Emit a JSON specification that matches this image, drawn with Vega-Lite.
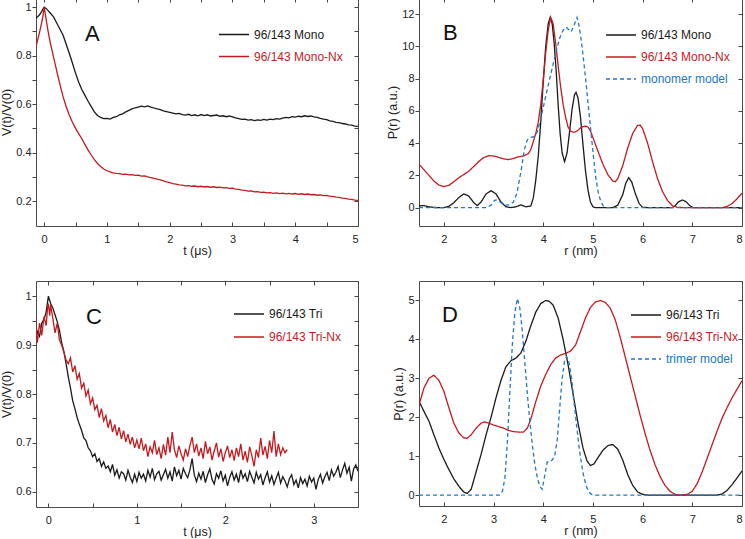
{
  "$schema": "https://vega.github.io/schema/vega-lite/v6.json",
  "background": "white",
  "padding": {"left": 0, "top": -3, "right": 0, "bottom": 0},
  "config": {
    "font": "Liberation Sans",
    "view": {"stroke": "#4a4a4a", "strokeWidth": 1},
    "axis": {"grid": false, "domain": false, "labelFont": "Liberation Sans", "labelFontSize": 11, "labelColor": "#222", "titleFont": "Liberation Sans", "titleFontSize": 12.5, "titleFontWeight": "normal", "titleColor": "#222", "tickColor": "#444", "tickWidth": 1, "format": "~g"},
    "axisLeft": {"tickSize": 4, "labelPadding": 1, "titlePadding": 2},
    "axisBottom": {"tickSize": -4, "labelPadding": 11, "titlePadding": 0},
    "legend": {"title": null, "orient": "none", "symbolType": "stroke", "symbolSize": 900, "symbolStrokeWidth": 1.5, "labelFont": "Liberation Sans", "labelFontSize": 12, "labelOffset": 4, "padding": 0,
      "labelColor": {"expr": "(datum.label === '96/143 Mono-Nx' || datum.label === '96/143 Tri-Nx') ? '#c41a1f' : ((datum.label === 'monomer model' || datum.label === 'trimer model') ? '#2277c4' : '#1a1a1a')"}},
    "title": {"font": "Liberation Sans", "fontSize": 22, "fontWeight": "normal", "color": "#111", "anchor": "start", "frame": "group"}
  },
  "columns": 2,
  "spacing": {"row": 55, "column": 61},
  "bounds": "flush",
  "resolve": {"scale": {"x": "independent", "y": "independent", "color": "independent", "strokeDash": "independent", "strokeWidth": "independent"}, "legend": {"color": "independent", "strokeDash": "independent"}},
  "datasets": {
    "A": [
      {"t": -0.13, "v": 0.956, "s": "96/143 Mono"}, {"t": -0.1, "v": 0.962, "s": "96/143 Mono"}, {"t": -0.07, "v": 0.97, "s": "96/143 Mono"}, {"t": -0.04, "v": 0.982, "s": "96/143 Mono"}, {"t": -0.02, "v": 0.992, "s": "96/143 Mono"}, {"t": 0, "v": 1.0, "s": "96/143 Mono"},
      {"t": 0.03, "v": 0.995, "s": "96/143 Mono"}, {"t": 0.06, "v": 0.987, "s": "96/143 Mono"}, {"t": 0.1, "v": 0.975, "s": "96/143 Mono"}, {"t": 0.15, "v": 0.96, "s": "96/143 Mono"}, {"t": 0.2, "v": 0.935, "s": "96/143 Mono"}, {"t": 0.25, "v": 0.91, "s": "96/143 Mono"}, {"t": 0.3, "v": 0.885, "s": "96/143 Mono"}, {"t": 0.35, "v": 0.848, "s": "96/143 Mono"}, {"t": 0.4, "v": 0.81, "s": "96/143 Mono"}, {"t": 0.45, "v": 0.77, "s": "96/143 Mono"}, {"t": 0.5, "v": 0.728, "s": "96/143 Mono"}, {"t": 0.55, "v": 0.69, "s": "96/143 Mono"}, {"t": 0.6, "v": 0.66, "s": "96/143 Mono"}, {"t": 0.65, "v": 0.636, "s": "96/143 Mono"}, {"t": 0.7, "v": 0.612, "s": "96/143 Mono"}, {"t": 0.75, "v": 0.59, "s": "96/143 Mono"}, {"t": 0.8, "v": 0.568, "s": "96/143 Mono"}, {"t": 0.85, "v": 0.553, "s": "96/143 Mono"}, {"t": 0.9, "v": 0.545, "s": "96/143 Mono"}, {"t": 0.95, "v": 0.54, "s": "96/143 Mono"},
      {"t": 1.0, "v": 0.541, "s": "96/143 Mono"}, {"t": 1.05, "v": 0.538, "s": "96/143 Mono"}, {"t": 1.1, "v": 0.545, "s": "96/143 Mono"}, {"t": 1.15, "v": 0.548, "s": "96/143 Mono"}, {"t": 1.2, "v": 0.556, "s": "96/143 Mono"}, {"t": 1.25, "v": 0.56, "s": "96/143 Mono"}, {"t": 1.3, "v": 0.568, "s": "96/143 Mono"}, {"t": 1.35, "v": 0.574, "s": "96/143 Mono"}, {"t": 1.4, "v": 0.58, "s": "96/143 Mono"}, {"t": 1.45, "v": 0.585, "s": "96/143 Mono"}, {"t": 1.5, "v": 0.588, "s": "96/143 Mono"}, {"t": 1.55, "v": 0.592, "s": "96/143 Mono"}, {"t": 1.6, "v": 0.589, "s": "96/143 Mono"}, {"t": 1.65, "v": 0.593, "s": "96/143 Mono"}, {"t": 1.7, "v": 0.588, "s": "96/143 Mono"}, {"t": 1.75, "v": 0.584, "s": "96/143 Mono"}, {"t": 1.8, "v": 0.58, "s": "96/143 Mono"}, {"t": 1.85, "v": 0.577, "s": "96/143 Mono"}, {"t": 1.9, "v": 0.572, "s": "96/143 Mono"}, {"t": 1.95, "v": 0.569, "s": "96/143 Mono"},
      {"t": 2.0, "v": 0.566, "s": "96/143 Mono"}, {"t": 2.05, "v": 0.563, "s": "96/143 Mono"}, {"t": 2.1, "v": 0.56, "s": "96/143 Mono"}, {"t": 2.15, "v": 0.562, "s": "96/143 Mono"}, {"t": 2.2, "v": 0.557, "s": "96/143 Mono"}, {"t": 2.25, "v": 0.555, "s": "96/143 Mono"}, {"t": 2.3, "v": 0.558, "s": "96/143 Mono"}, {"t": 2.35, "v": 0.553, "s": "96/143 Mono"}, {"t": 2.4, "v": 0.556, "s": "96/143 Mono"}, {"t": 2.45, "v": 0.552, "s": "96/143 Mono"}, {"t": 2.5, "v": 0.557, "s": "96/143 Mono"}, {"t": 2.55, "v": 0.553, "s": "96/143 Mono"}, {"t": 2.6, "v": 0.556, "s": "96/143 Mono"}, {"t": 2.65, "v": 0.551, "s": "96/143 Mono"}, {"t": 2.7, "v": 0.553, "s": "96/143 Mono"}, {"t": 2.75, "v": 0.555, "s": "96/143 Mono"}, {"t": 2.8, "v": 0.55, "s": "96/143 Mono"}, {"t": 2.85, "v": 0.552, "s": "96/143 Mono"}, {"t": 2.9, "v": 0.548, "s": "96/143 Mono"}, {"t": 2.95, "v": 0.551, "s": "96/143 Mono"},
      {"t": 3.0, "v": 0.547, "s": "96/143 Mono"}, {"t": 3.05, "v": 0.543, "s": "96/143 Mono"}, {"t": 3.1, "v": 0.54, "s": "96/143 Mono"}, {"t": 3.15, "v": 0.537, "s": "96/143 Mono"}, {"t": 3.2, "v": 0.538, "s": "96/143 Mono"}, {"t": 3.25, "v": 0.534, "s": "96/143 Mono"}, {"t": 3.3, "v": 0.536, "s": "96/143 Mono"}, {"t": 3.35, "v": 0.532, "s": "96/143 Mono"}, {"t": 3.4, "v": 0.535, "s": "96/143 Mono"}, {"t": 3.45, "v": 0.533, "s": "96/143 Mono"}, {"t": 3.5, "v": 0.537, "s": "96/143 Mono"}, {"t": 3.55, "v": 0.534, "s": "96/143 Mono"}, {"t": 3.6, "v": 0.538, "s": "96/143 Mono"}, {"t": 3.65, "v": 0.536, "s": "96/143 Mono"}, {"t": 3.7, "v": 0.54, "s": "96/143 Mono"}, {"t": 3.75, "v": 0.538, "s": "96/143 Mono"}, {"t": 3.8, "v": 0.542, "s": "96/143 Mono"}, {"t": 3.85, "v": 0.545, "s": "96/143 Mono"}, {"t": 3.9, "v": 0.543, "s": "96/143 Mono"}, {"t": 3.95, "v": 0.548, "s": "96/143 Mono"},
      {"t": 4.0, "v": 0.546, "s": "96/143 Mono"}, {"t": 4.05, "v": 0.55, "s": "96/143 Mono"}, {"t": 4.1, "v": 0.548, "s": "96/143 Mono"}, {"t": 4.15, "v": 0.552, "s": "96/143 Mono"}, {"t": 4.2, "v": 0.549, "s": "96/143 Mono"}, {"t": 4.25, "v": 0.551, "s": "96/143 Mono"}, {"t": 4.3, "v": 0.547, "s": "96/143 Mono"}, {"t": 4.35, "v": 0.545, "s": "96/143 Mono"}, {"t": 4.4, "v": 0.541, "s": "96/143 Mono"}, {"t": 4.45, "v": 0.538, "s": "96/143 Mono"}, {"t": 4.5, "v": 0.536, "s": "96/143 Mono"}, {"t": 4.55, "v": 0.531, "s": "96/143 Mono"}, {"t": 4.6, "v": 0.529, "s": "96/143 Mono"}, {"t": 4.65, "v": 0.525, "s": "96/143 Mono"}, {"t": 4.7, "v": 0.524, "s": "96/143 Mono"}, {"t": 4.75, "v": 0.52, "s": "96/143 Mono"}, {"t": 4.8, "v": 0.518, "s": "96/143 Mono"}, {"t": 4.85, "v": 0.514, "s": "96/143 Mono"}, {"t": 4.9, "v": 0.513, "s": "96/143 Mono"}, {"t": 4.95, "v": 0.509, "s": "96/143 Mono"}, {"t": 5.0, "v": 0.508, "s": "96/143 Mono"},
      {"t": -0.13, "v": 0.838, "s": "96/143 Mono-Nx"}, {"t": -0.1, "v": 0.868, "s": "96/143 Mono-Nx"}, {"t": -0.07, "v": 0.9, "s": "96/143 Mono-Nx"}, {"t": -0.04, "v": 0.935, "s": "96/143 Mono-Nx"}, {"t": -0.02, "v": 0.962, "s": "96/143 Mono-Nx"}, {"t": 0, "v": 1.0, "s": "96/143 Mono-Nx"},
      {"t": 0.02, "v": 0.968, "s": "96/143 Mono-Nx"}, {"t": 0.04, "v": 0.935, "s": "96/143 Mono-Nx"}, {"t": 0.07, "v": 0.89, "s": "96/143 Mono-Nx"}, {"t": 0.1, "v": 0.85, "s": "96/143 Mono-Nx"}, {"t": 0.14, "v": 0.805, "s": "96/143 Mono-Nx"}, {"t": 0.18, "v": 0.76, "s": "96/143 Mono-Nx"}, {"t": 0.22, "v": 0.715, "s": "96/143 Mono-Nx"}, {"t": 0.26, "v": 0.672, "s": "96/143 Mono-Nx"}, {"t": 0.3, "v": 0.632, "s": "96/143 Mono-Nx"}, {"t": 0.35, "v": 0.59, "s": "96/143 Mono-Nx"}, {"t": 0.4, "v": 0.555, "s": "96/143 Mono-Nx"}, {"t": 0.45, "v": 0.525, "s": "96/143 Mono-Nx"}, {"t": 0.5, "v": 0.5, "s": "96/143 Mono-Nx"}, {"t": 0.55, "v": 0.478, "s": "96/143 Mono-Nx"}, {"t": 0.6, "v": 0.457, "s": "96/143 Mono-Nx"}, {"t": 0.65, "v": 0.433, "s": "96/143 Mono-Nx"}, {"t": 0.7, "v": 0.41, "s": "96/143 Mono-Nx"}, {"t": 0.75, "v": 0.39, "s": "96/143 Mono-Nx"}, {"t": 0.8, "v": 0.371, "s": "96/143 Mono-Nx"}, {"t": 0.85, "v": 0.355, "s": "96/143 Mono-Nx"}, {"t": 0.9, "v": 0.343, "s": "96/143 Mono-Nx"}, {"t": 0.95, "v": 0.332, "s": "96/143 Mono-Nx"},
      {"t": 1.0, "v": 0.325, "s": "96/143 Mono-Nx"}, {"t": 1.05, "v": 0.32, "s": "96/143 Mono-Nx"}, {"t": 1.1, "v": 0.316, "s": "96/143 Mono-Nx"}, {"t": 1.15, "v": 0.314, "s": "96/143 Mono-Nx"}, {"t": 1.2, "v": 0.313, "s": "96/143 Mono-Nx"}, {"t": 1.25, "v": 0.31, "s": "96/143 Mono-Nx"}, {"t": 1.3, "v": 0.311, "s": "96/143 Mono-Nx"}, {"t": 1.35, "v": 0.308, "s": "96/143 Mono-Nx"}, {"t": 1.4, "v": 0.309, "s": "96/143 Mono-Nx"}, {"t": 1.45, "v": 0.306, "s": "96/143 Mono-Nx"}, {"t": 1.5, "v": 0.307, "s": "96/143 Mono-Nx"}, {"t": 1.55, "v": 0.303, "s": "96/143 Mono-Nx"}, {"t": 1.6, "v": 0.304, "s": "96/143 Mono-Nx"}, {"t": 1.65, "v": 0.3, "s": "96/143 Mono-Nx"}, {"t": 1.7, "v": 0.297, "s": "96/143 Mono-Nx"}, {"t": 1.75, "v": 0.294, "s": "96/143 Mono-Nx"}, {"t": 1.8, "v": 0.29, "s": "96/143 Mono-Nx"}, {"t": 1.85, "v": 0.287, "s": "96/143 Mono-Nx"}, {"t": 1.9, "v": 0.283, "s": "96/143 Mono-Nx"}, {"t": 1.95, "v": 0.279, "s": "96/143 Mono-Nx"},
      {"t": 2.0, "v": 0.276, "s": "96/143 Mono-Nx"}, {"t": 2.05, "v": 0.272, "s": "96/143 Mono-Nx"}, {"t": 2.1, "v": 0.27, "s": "96/143 Mono-Nx"}, {"t": 2.15, "v": 0.267, "s": "96/143 Mono-Nx"}, {"t": 2.2, "v": 0.266, "s": "96/143 Mono-Nx"}, {"t": 2.25, "v": 0.263, "s": "96/143 Mono-Nx"}, {"t": 2.3, "v": 0.264, "s": "96/143 Mono-Nx"}, {"t": 2.35, "v": 0.261, "s": "96/143 Mono-Nx"}, {"t": 2.4, "v": 0.262, "s": "96/143 Mono-Nx"}, {"t": 2.45, "v": 0.259, "s": "96/143 Mono-Nx"}, {"t": 2.5, "v": 0.261, "s": "96/143 Mono-Nx"}, {"t": 2.55, "v": 0.258, "s": "96/143 Mono-Nx"}, {"t": 2.6, "v": 0.26, "s": "96/143 Mono-Nx"}, {"t": 2.65, "v": 0.257, "s": "96/143 Mono-Nx"}, {"t": 2.7, "v": 0.259, "s": "96/143 Mono-Nx"}, {"t": 2.75, "v": 0.256, "s": "96/143 Mono-Nx"}, {"t": 2.8, "v": 0.257, "s": "96/143 Mono-Nx"}, {"t": 2.85, "v": 0.254, "s": "96/143 Mono-Nx"}, {"t": 2.9, "v": 0.255, "s": "96/143 Mono-Nx"}, {"t": 2.95, "v": 0.252, "s": "96/143 Mono-Nx"},
      {"t": 3.0, "v": 0.253, "s": "96/143 Mono-Nx"}, {"t": 3.05, "v": 0.249, "s": "96/143 Mono-Nx"}, {"t": 3.1, "v": 0.248, "s": "96/143 Mono-Nx"}, {"t": 3.15, "v": 0.245, "s": "96/143 Mono-Nx"}, {"t": 3.2, "v": 0.244, "s": "96/143 Mono-Nx"}, {"t": 3.25, "v": 0.241, "s": "96/143 Mono-Nx"}, {"t": 3.3, "v": 0.242, "s": "96/143 Mono-Nx"}, {"t": 3.35, "v": 0.238, "s": "96/143 Mono-Nx"}, {"t": 3.4, "v": 0.239, "s": "96/143 Mono-Nx"}, {"t": 3.45, "v": 0.236, "s": "96/143 Mono-Nx"}, {"t": 3.5, "v": 0.237, "s": "96/143 Mono-Nx"}, {"t": 3.55, "v": 0.234, "s": "96/143 Mono-Nx"}, {"t": 3.6, "v": 0.235, "s": "96/143 Mono-Nx"}, {"t": 3.65, "v": 0.232, "s": "96/143 Mono-Nx"}, {"t": 3.7, "v": 0.234, "s": "96/143 Mono-Nx"}, {"t": 3.75, "v": 0.231, "s": "96/143 Mono-Nx"}, {"t": 3.8, "v": 0.233, "s": "96/143 Mono-Nx"}, {"t": 3.85, "v": 0.23, "s": "96/143 Mono-Nx"}, {"t": 3.9, "v": 0.232, "s": "96/143 Mono-Nx"}, {"t": 3.95, "v": 0.229, "s": "96/143 Mono-Nx"},
      {"t": 4.0, "v": 0.231, "s": "96/143 Mono-Nx"}, {"t": 4.05, "v": 0.228, "s": "96/143 Mono-Nx"}, {"t": 4.1, "v": 0.23, "s": "96/143 Mono-Nx"}, {"t": 4.15, "v": 0.227, "s": "96/143 Mono-Nx"}, {"t": 4.2, "v": 0.229, "s": "96/143 Mono-Nx"}, {"t": 4.25, "v": 0.226, "s": "96/143 Mono-Nx"}, {"t": 4.3, "v": 0.227, "s": "96/143 Mono-Nx"}, {"t": 4.35, "v": 0.224, "s": "96/143 Mono-Nx"}, {"t": 4.4, "v": 0.225, "s": "96/143 Mono-Nx"}, {"t": 4.45, "v": 0.222, "s": "96/143 Mono-Nx"}, {"t": 4.5, "v": 0.223, "s": "96/143 Mono-Nx"}, {"t": 4.55, "v": 0.22, "s": "96/143 Mono-Nx"}, {"t": 4.6, "v": 0.219, "s": "96/143 Mono-Nx"}, {"t": 4.65, "v": 0.216, "s": "96/143 Mono-Nx"}, {"t": 4.7, "v": 0.215, "s": "96/143 Mono-Nx"}, {"t": 4.75, "v": 0.212, "s": "96/143 Mono-Nx"}, {"t": 4.8, "v": 0.211, "s": "96/143 Mono-Nx"}, {"t": 4.85, "v": 0.208, "s": "96/143 Mono-Nx"}, {"t": 4.9, "v": 0.207, "s": "96/143 Mono-Nx"}, {"t": 4.95, "v": 0.204, "s": "96/143 Mono-Nx"}, {"t": 5.0, "v": 0.203, "s": "96/143 Mono-Nx"}
    ],
    "B": [
      {"r": 1.5, "p": 0.1, "s": "96/143 Mono"}, {"r": 1.55, "p": 0.12, "s": "96/143 Mono"}, {"r": 1.6, "p": 0.12, "s": "96/143 Mono"}, {"r": 1.65, "p": 0.09, "s": "96/143 Mono"}, {"r": 1.7, "p": 0.05, "s": "96/143 Mono"}, {"r": 1.8, "p": 0.01, "s": "96/143 Mono"}, {"r": 1.9, "p": 0, "s": "96/143 Mono"}, {"r": 2.0, "p": 0, "s": "96/143 Mono"}, {"r": 2.1, "p": 0.08, "s": "96/143 Mono"}, {"r": 2.2, "p": 0.3, "s": "96/143 Mono"}, {"r": 2.3, "p": 0.62, "s": "96/143 Mono"}, {"r": 2.4, "p": 0.85, "s": "96/143 Mono"}, {"r": 2.5, "p": 0.72, "s": "96/143 Mono"}, {"r": 2.6, "p": 0.32, "s": "96/143 Mono"}, {"r": 2.67, "p": 0.12, "s": "96/143 Mono"}, {"r": 2.75, "p": 0.35, "s": "96/143 Mono"}, {"r": 2.85, "p": 0.85, "s": "96/143 Mono"}, {"r": 2.95, "p": 1.05, "s": "96/143 Mono"}, {"r": 3.05, "p": 0.85, "s": "96/143 Mono"}, {"r": 3.15, "p": 0.35, "s": "96/143 Mono"}, {"r": 3.25, "p": 0.05, "s": "96/143 Mono"}, {"r": 3.35, "p": 0, "s": "96/143 Mono"}, {"r": 3.45, "p": 0.05, "s": "96/143 Mono"}, {"r": 3.55, "p": 0.17, "s": "96/143 Mono"}, {"r": 3.65, "p": 0.05, "s": "96/143 Mono"}, {"r": 3.75, "p": 0.1, "s": "96/143 Mono"}, {"r": 3.8, "p": 0.6, "s": "96/143 Mono"}, {"r": 3.85, "p": 1.7, "s": "96/143 Mono"}, {"r": 3.9, "p": 3.2, "s": "96/143 Mono"}, {"r": 3.95, "p": 5.3, "s": "96/143 Mono"}, {"r": 4.0, "p": 7.8, "s": "96/143 Mono"}, {"r": 4.05, "p": 10.0, "s": "96/143 Mono"}, {"r": 4.1, "p": 11.4, "s": "96/143 Mono"}, {"r": 4.14, "p": 11.8, "s": "96/143 Mono"}, {"r": 4.18, "p": 11.4, "s": "96/143 Mono"}, {"r": 4.22, "p": 10.2, "s": "96/143 Mono"}, {"r": 4.26, "p": 8.5, "s": "96/143 Mono"}, {"r": 4.3, "p": 6.4, "s": "96/143 Mono"}, {"r": 4.34, "p": 4.6, "s": "96/143 Mono"}, {"r": 4.38, "p": 3.4, "s": "96/143 Mono"}, {"r": 4.43, "p": 2.85, "s": "96/143 Mono"}, {"r": 4.48, "p": 3.4, "s": "96/143 Mono"}, {"r": 4.53, "p": 4.7, "s": "96/143 Mono"}, {"r": 4.58, "p": 6.1, "s": "96/143 Mono"}, {"r": 4.63, "p": 7.0, "s": "96/143 Mono"}, {"r": 4.66, "p": 7.15, "s": "96/143 Mono"}, {"r": 4.7, "p": 6.8, "s": "96/143 Mono"}, {"r": 4.75, "p": 5.6, "s": "96/143 Mono"}, {"r": 4.8, "p": 3.9, "s": "96/143 Mono"}, {"r": 4.85, "p": 2.3, "s": "96/143 Mono"}, {"r": 4.9, "p": 1.1, "s": "96/143 Mono"}, {"r": 4.95, "p": 0.35, "s": "96/143 Mono"}, {"r": 5.0, "p": 0.05, "s": "96/143 Mono"}, {"r": 5.05, "p": 0, "s": "96/143 Mono"}, {"r": 5.4, "p": 0, "s": "96/143 Mono"}, {"r": 5.5, "p": 0.15, "s": "96/143 Mono"}, {"r": 5.6, "p": 0.8, "s": "96/143 Mono"}, {"r": 5.66, "p": 1.5, "s": "96/143 Mono"}, {"r": 5.72, "p": 1.86, "s": "96/143 Mono"}, {"r": 5.78, "p": 1.6, "s": "96/143 Mono"}, {"r": 5.85, "p": 0.9, "s": "96/143 Mono"}, {"r": 5.93, "p": 0.25, "s": "96/143 Mono"}, {"r": 6.0, "p": 0.02, "s": "96/143 Mono"}, {"r": 6.1, "p": 0, "s": "96/143 Mono"}, {"r": 6.6, "p": 0, "s": "96/143 Mono"}, {"r": 6.65, "p": 0.1, "s": "96/143 Mono"}, {"r": 6.72, "p": 0.35, "s": "96/143 Mono"}, {"r": 6.8, "p": 0.48, "s": "96/143 Mono"}, {"r": 6.88, "p": 0.35, "s": "96/143 Mono"}, {"r": 6.95, "p": 0.12, "s": "96/143 Mono"}, {"r": 7.02, "p": 0, "s": "96/143 Mono"}, {"r": 8.0, "p": 0, "s": "96/143 Mono"},
      {"r": 1.5, "p": 2.7, "s": "96/143 Mono-Nx"}, {"r": 1.6, "p": 2.35, "s": "96/143 Mono-Nx"}, {"r": 1.7, "p": 2.0, "s": "96/143 Mono-Nx"}, {"r": 1.8, "p": 1.65, "s": "96/143 Mono-Nx"}, {"r": 1.9, "p": 1.4, "s": "96/143 Mono-Nx"}, {"r": 2.0, "p": 1.3, "s": "96/143 Mono-Nx"}, {"r": 2.1, "p": 1.38, "s": "96/143 Mono-Nx"}, {"r": 2.2, "p": 1.6, "s": "96/143 Mono-Nx"}, {"r": 2.3, "p": 1.85, "s": "96/143 Mono-Nx"}, {"r": 2.4, "p": 2.05, "s": "96/143 Mono-Nx"}, {"r": 2.5, "p": 2.25, "s": "96/143 Mono-Nx"}, {"r": 2.6, "p": 2.55, "s": "96/143 Mono-Nx"}, {"r": 2.7, "p": 2.85, "s": "96/143 Mono-Nx"}, {"r": 2.8, "p": 3.1, "s": "96/143 Mono-Nx"}, {"r": 2.9, "p": 3.22, "s": "96/143 Mono-Nx"}, {"r": 3.0, "p": 3.2, "s": "96/143 Mono-Nx"}, {"r": 3.1, "p": 3.12, "s": "96/143 Mono-Nx"}, {"r": 3.2, "p": 3.02, "s": "96/143 Mono-Nx"}, {"r": 3.3, "p": 2.98, "s": "96/143 Mono-Nx"}, {"r": 3.4, "p": 3.05, "s": "96/143 Mono-Nx"}, {"r": 3.5, "p": 3.15, "s": "96/143 Mono-Nx"}, {"r": 3.6, "p": 3.2, "s": "96/143 Mono-Nx"}, {"r": 3.7, "p": 3.35, "s": "96/143 Mono-Nx"}, {"r": 3.75, "p": 3.6, "s": "96/143 Mono-Nx"}, {"r": 3.8, "p": 4.1, "s": "96/143 Mono-Nx"}, {"r": 3.85, "p": 4.6, "s": "96/143 Mono-Nx"}, {"r": 3.9, "p": 5.3, "s": "96/143 Mono-Nx"}, {"r": 3.95, "p": 6.4, "s": "96/143 Mono-Nx"}, {"r": 4.0, "p": 7.9, "s": "96/143 Mono-Nx"}, {"r": 4.05, "p": 9.6, "s": "96/143 Mono-Nx"}, {"r": 4.1, "p": 11.0, "s": "96/143 Mono-Nx"}, {"r": 4.15, "p": 11.8, "s": "96/143 Mono-Nx"}, {"r": 4.2, "p": 11.4, "s": "96/143 Mono-Nx"}, {"r": 4.25, "p": 10.2, "s": "96/143 Mono-Nx"}, {"r": 4.3, "p": 8.8, "s": "96/143 Mono-Nx"}, {"r": 4.35, "p": 7.5, "s": "96/143 Mono-Nx"}, {"r": 4.4, "p": 6.4, "s": "96/143 Mono-Nx"}, {"r": 4.45, "p": 5.6, "s": "96/143 Mono-Nx"}, {"r": 4.5, "p": 5.0, "s": "96/143 Mono-Nx"}, {"r": 4.55, "p": 4.75, "s": "96/143 Mono-Nx"}, {"r": 4.6, "p": 4.68, "s": "96/143 Mono-Nx"}, {"r": 4.65, "p": 4.7, "s": "96/143 Mono-Nx"}, {"r": 4.7, "p": 4.8, "s": "96/143 Mono-Nx"}, {"r": 4.75, "p": 4.95, "s": "96/143 Mono-Nx"}, {"r": 4.8, "p": 5.02, "s": "96/143 Mono-Nx"}, {"r": 4.85, "p": 5.05, "s": "96/143 Mono-Nx"}, {"r": 4.9, "p": 5.0, "s": "96/143 Mono-Nx"}, {"r": 4.95, "p": 4.75, "s": "96/143 Mono-Nx"}, {"r": 5.0, "p": 4.35, "s": "96/143 Mono-Nx"}, {"r": 5.1, "p": 3.5, "s": "96/143 Mono-Nx"}, {"r": 5.2, "p": 2.7, "s": "96/143 Mono-Nx"}, {"r": 5.3, "p": 2.05, "s": "96/143 Mono-Nx"}, {"r": 5.4, "p": 1.65, "s": "96/143 Mono-Nx"}, {"r": 5.45, "p": 1.6, "s": "96/143 Mono-Nx"}, {"r": 5.5, "p": 1.8, "s": "96/143 Mono-Nx"}, {"r": 5.6, "p": 2.6, "s": "96/143 Mono-Nx"}, {"r": 5.7, "p": 3.7, "s": "96/143 Mono-Nx"}, {"r": 5.8, "p": 4.6, "s": "96/143 Mono-Nx"}, {"r": 5.9, "p": 5.1, "s": "96/143 Mono-Nx"}, {"r": 5.95, "p": 5.12, "s": "96/143 Mono-Nx"}, {"r": 6.0, "p": 4.9, "s": "96/143 Mono-Nx"}, {"r": 6.1, "p": 4.0, "s": "96/143 Mono-Nx"}, {"r": 6.2, "p": 2.85, "s": "96/143 Mono-Nx"}, {"r": 6.3, "p": 1.8, "s": "96/143 Mono-Nx"}, {"r": 6.4, "p": 1.0, "s": "96/143 Mono-Nx"}, {"r": 6.5, "p": 0.45, "s": "96/143 Mono-Nx"}, {"r": 6.6, "p": 0.12, "s": "96/143 Mono-Nx"}, {"r": 6.7, "p": 0.02, "s": "96/143 Mono-Nx"}, {"r": 6.8, "p": 0, "s": "96/143 Mono-Nx"}, {"r": 7.6, "p": 0, "s": "96/143 Mono-Nx"}, {"r": 7.7, "p": 0.08, "s": "96/143 Mono-Nx"}, {"r": 7.8, "p": 0.25, "s": "96/143 Mono-Nx"}, {"r": 7.9, "p": 0.55, "s": "96/143 Mono-Nx"}, {"r": 8.0, "p": 0.9, "s": "96/143 Mono-Nx"},
      {"r": 1.5, "p": 0, "s": "monomer model"}, {"r": 2.85, "p": 0, "s": "monomer model"}, {"r": 2.95, "p": 0.15, "s": "monomer model"}, {"r": 3.02, "p": 0.45, "s": "monomer model"}, {"r": 3.08, "p": 0.48, "s": "monomer model"}, {"r": 3.15, "p": 0.3, "s": "monomer model"}, {"r": 3.25, "p": 0.15, "s": "monomer model"}, {"r": 3.33, "p": 0.18, "s": "monomer model"}, {"r": 3.4, "p": 0.35, "s": "monomer model"}, {"r": 3.47, "p": 0.9, "s": "monomer model"}, {"r": 3.55, "p": 2.2, "s": "monomer model"}, {"r": 3.62, "p": 3.6, "s": "monomer model"}, {"r": 3.68, "p": 4.2, "s": "monomer model"}, {"r": 3.75, "p": 4.35, "s": "monomer model"}, {"r": 3.82, "p": 4.4, "s": "monomer model"}, {"r": 3.88, "p": 4.7, "s": "monomer model"}, {"r": 3.94, "p": 5.4, "s": "monomer model"}, {"r": 4.0, "p": 6.2, "s": "monomer model"}, {"r": 4.1, "p": 7.6, "s": "monomer model"}, {"r": 4.2, "p": 8.9, "s": "monomer model"}, {"r": 4.27, "p": 9.8, "s": "monomer model"}, {"r": 4.33, "p": 10.5, "s": "monomer model"}, {"r": 4.4, "p": 11.0, "s": "monomer model"}, {"r": 4.46, "p": 11.2, "s": "monomer model"}, {"r": 4.51, "p": 11.05, "s": "monomer model"}, {"r": 4.56, "p": 10.9, "s": "monomer model"}, {"r": 4.62, "p": 11.3, "s": "monomer model"}, {"r": 4.68, "p": 11.8, "s": "monomer model"}, {"r": 4.72, "p": 11.3, "s": "monomer model"}, {"r": 4.76, "p": 10.5, "s": "monomer model"}, {"r": 4.81, "p": 9.2, "s": "monomer model"}, {"r": 4.86, "p": 7.8, "s": "monomer model"}, {"r": 4.91, "p": 6.2, "s": "monomer model"}, {"r": 4.96, "p": 4.7, "s": "monomer model"}, {"r": 5.01, "p": 3.2, "s": "monomer model"}, {"r": 5.06, "p": 1.8, "s": "monomer model"}, {"r": 5.11, "p": 0.9, "s": "monomer model"}, {"r": 5.16, "p": 0.37, "s": "monomer model"}, {"r": 5.21, "p": 0.1, "s": "monomer model"}, {"r": 5.26, "p": 0, "s": "monomer model"}, {"r": 8.0, "p": 0, "s": "monomer model"}
    ],
    "C": [
      {"t": -0.14, "v": 0.915, "s": "96/143 Tri"}, {"t": -0.125, "v": 0.928, "s": "96/143 Tri"}, {"t": -0.1, "v": 0.918, "s": "96/143 Tri"}, {"t": -0.075, "v": 0.945, "s": "96/143 Tri"}, {"t": -0.05, "v": 0.952, "s": "96/143 Tri"}, {"t": -0.025, "v": 0.968, "s": "96/143 Tri"}, {"t": 0, "v": 1.0, "s": "96/143 Tri"}, {"t": 0.025, "v": 0.985, "s": "96/143 Tri"}, {"t": 0.05, "v": 0.976, "s": "96/143 Tri"}, {"t": 0.075, "v": 0.962, "s": "96/143 Tri"}, {"t": 0.1, "v": 0.948, "s": "96/143 Tri"}, {"t": 0.125, "v": 0.93, "s": "96/143 Tri"}, {"t": 0.15, "v": 0.905, "s": "96/143 Tri"}, {"t": 0.175, "v": 0.887, "s": "96/143 Tri"}, {"t": 0.2, "v": 0.862, "s": "96/143 Tri"}, {"t": 0.225, "v": 0.835, "s": "96/143 Tri"}, {"t": 0.25, "v": 0.812, "s": "96/143 Tri"}, {"t": 0.275, "v": 0.786, "s": "96/143 Tri"}, {"t": 0.3, "v": 0.77, "s": "96/143 Tri"}, {"t": 0.325, "v": 0.752, "s": "96/143 Tri"}, {"t": 0.35, "v": 0.738, "s": "96/143 Tri"}, {"t": 0.375, "v": 0.726, "s": "96/143 Tri"}, {"t": 0.4, "v": 0.71, "s": "96/143 Tri"}, {"t": 0.425, "v": 0.705, "s": "96/143 Tri"}, {"t": 0.45, "v": 0.69, "s": "96/143 Tri"}, {"t": 0.475, "v": 0.684, "s": "96/143 Tri"}, {"t": 0.5, "v": 0.672, "s": "96/143 Tri"}, {"t": 0.525, "v": 0.678, "s": "96/143 Tri"}, {"t": 0.55, "v": 0.662, "s": "96/143 Tri"}, {"t": 0.575, "v": 0.668, "s": "96/143 Tri"}, {"t": 0.6, "v": 0.652, "s": "96/143 Tri"}, {"t": 0.625, "v": 0.661, "s": "96/143 Tri"}, {"t": 0.65, "v": 0.648, "s": "96/143 Tri"}, {"t": 0.675, "v": 0.653, "s": "96/143 Tri"}, {"t": 0.7, "v": 0.641, "s": "96/143 Tri"}, {"t": 0.725, "v": 0.656, "s": "96/143 Tri"}, {"t": 0.75, "v": 0.634, "s": "96/143 Tri"}, {"t": 0.775, "v": 0.645, "s": "96/143 Tri"}, {"t": 0.8, "v": 0.628, "s": "96/143 Tri"}, {"t": 0.825, "v": 0.641, "s": "96/143 Tri"}, {"t": 0.85, "v": 0.637, "s": "96/143 Tri"}, {"t": 0.875, "v": 0.624, "s": "96/143 Tri"}, {"t": 0.9, "v": 0.644, "s": "96/143 Tri"}, {"t": 0.925, "v": 0.63, "s": "96/143 Tri"}, {"t": 0.95, "v": 0.619, "s": "96/143 Tri"}, {"t": 0.975, "v": 0.636, "s": "96/143 Tri"},
      {"t": 1.0, "v": 0.621, "s": "96/143 Tri"}, {"t": 1.025, "v": 0.64, "s": "96/143 Tri"}, {"t": 1.05, "v": 0.628, "s": "96/143 Tri"}, {"t": 1.075, "v": 0.636, "s": "96/143 Tri"}, {"t": 1.1, "v": 0.622, "s": "96/143 Tri"}, {"t": 1.125, "v": 0.644, "s": "96/143 Tri"}, {"t": 1.15, "v": 0.63, "s": "96/143 Tri"}, {"t": 1.175, "v": 0.648, "s": "96/143 Tri"}, {"t": 1.2, "v": 0.625, "s": "96/143 Tri"}, {"t": 1.225, "v": 0.637, "s": "96/143 Tri"}, {"t": 1.25, "v": 0.642, "s": "96/143 Tri"}, {"t": 1.275, "v": 0.624, "s": "96/143 Tri"}, {"t": 1.3, "v": 0.635, "s": "96/143 Tri"}, {"t": 1.325, "v": 0.646, "s": "96/143 Tri"}, {"t": 1.35, "v": 0.628, "s": "96/143 Tri"}, {"t": 1.375, "v": 0.641, "s": "96/143 Tri"}, {"t": 1.4, "v": 0.622, "s": "96/143 Tri"}, {"t": 1.425, "v": 0.651, "s": "96/143 Tri"}, {"t": 1.45, "v": 0.633, "s": "96/143 Tri"}, {"t": 1.475, "v": 0.644, "s": "96/143 Tri"}, {"t": 1.5, "v": 0.626, "s": "96/143 Tri"}, {"t": 1.525, "v": 0.648, "s": "96/143 Tri"}, {"t": 1.55, "v": 0.637, "s": "96/143 Tri"}, {"t": 1.575, "v": 0.629, "s": "96/143 Tri"}, {"t": 1.6, "v": 0.645, "s": "96/143 Tri"}, {"t": 1.625, "v": 0.668, "s": "96/143 Tri"}, {"t": 1.65, "v": 0.634, "s": "96/143 Tri"}, {"t": 1.675, "v": 0.621, "s": "96/143 Tri"}, {"t": 1.7, "v": 0.638, "s": "96/143 Tri"}, {"t": 1.725, "v": 0.626, "s": "96/143 Tri"}, {"t": 1.75, "v": 0.642, "s": "96/143 Tri"}, {"t": 1.775, "v": 0.619, "s": "96/143 Tri"}, {"t": 1.8, "v": 0.635, "s": "96/143 Tri"}, {"t": 1.825, "v": 0.647, "s": "96/143 Tri"}, {"t": 1.85, "v": 0.625, "s": "96/143 Tri"}, {"t": 1.875, "v": 0.616, "s": "96/143 Tri"}, {"t": 1.9, "v": 0.637, "s": "96/143 Tri"}, {"t": 1.925, "v": 0.628, "s": "96/143 Tri"}, {"t": 1.95, "v": 0.643, "s": "96/143 Tri"}, {"t": 1.975, "v": 0.622, "s": "96/143 Tri"},
      {"t": 2.0, "v": 0.634, "s": "96/143 Tri"}, {"t": 2.025, "v": 0.612, "s": "96/143 Tri"}, {"t": 2.05, "v": 0.63, "s": "96/143 Tri"}, {"t": 2.075, "v": 0.641, "s": "96/143 Tri"}, {"t": 2.1, "v": 0.624, "s": "96/143 Tri"}, {"t": 2.125, "v": 0.636, "s": "96/143 Tri"}, {"t": 2.15, "v": 0.619, "s": "96/143 Tri"}, {"t": 2.175, "v": 0.645, "s": "96/143 Tri"}, {"t": 2.2, "v": 0.628, "s": "96/143 Tri"}, {"t": 2.225, "v": 0.637, "s": "96/143 Tri"}, {"t": 2.25, "v": 0.621, "s": "96/143 Tri"}, {"t": 2.275, "v": 0.642, "s": "96/143 Tri"}, {"t": 2.3, "v": 0.63, "s": "96/143 Tri"}, {"t": 2.325, "v": 0.618, "s": "96/143 Tri"}, {"t": 2.35, "v": 0.64, "s": "96/143 Tri"}, {"t": 2.375, "v": 0.626, "s": "96/143 Tri"}, {"t": 2.4, "v": 0.635, "s": "96/143 Tri"}, {"t": 2.425, "v": 0.614, "s": "96/143 Tri"}, {"t": 2.45, "v": 0.629, "s": "96/143 Tri"}, {"t": 2.475, "v": 0.641, "s": "96/143 Tri"}, {"t": 2.5, "v": 0.62, "s": "96/143 Tri"}, {"t": 2.525, "v": 0.633, "s": "96/143 Tri"}, {"t": 2.55, "v": 0.615, "s": "96/143 Tri"}, {"t": 2.575, "v": 0.628, "s": "96/143 Tri"}, {"t": 2.6, "v": 0.64, "s": "96/143 Tri"}, {"t": 2.625, "v": 0.618, "s": "96/143 Tri"}, {"t": 2.65, "v": 0.631, "s": "96/143 Tri"}, {"t": 2.675, "v": 0.622, "s": "96/143 Tri"}, {"t": 2.7, "v": 0.61, "s": "96/143 Tri"}, {"t": 2.725, "v": 0.627, "s": "96/143 Tri"}, {"t": 2.75, "v": 0.635, "s": "96/143 Tri"}, {"t": 2.775, "v": 0.615, "s": "96/143 Tri"}, {"t": 2.8, "v": 0.624, "s": "96/143 Tri"}, {"t": 2.825, "v": 0.608, "s": "96/143 Tri"}, {"t": 2.85, "v": 0.629, "s": "96/143 Tri"}, {"t": 2.875, "v": 0.617, "s": "96/143 Tri"}, {"t": 2.9, "v": 0.626, "s": "96/143 Tri"}, {"t": 2.925, "v": 0.612, "s": "96/143 Tri"}, {"t": 2.95, "v": 0.632, "s": "96/143 Tri"}, {"t": 2.975, "v": 0.62, "s": "96/143 Tri"},
      {"t": 3.0, "v": 0.628, "s": "96/143 Tri"}, {"t": 3.025, "v": 0.605, "s": "96/143 Tri"}, {"t": 3.05, "v": 0.625, "s": "96/143 Tri"}, {"t": 3.075, "v": 0.636, "s": "96/143 Tri"}, {"t": 3.1, "v": 0.618, "s": "96/143 Tri"}, {"t": 3.125, "v": 0.631, "s": "96/143 Tri"}, {"t": 3.15, "v": 0.64, "s": "96/143 Tri"}, {"t": 3.175, "v": 0.623, "s": "96/143 Tri"}, {"t": 3.2, "v": 0.645, "s": "96/143 Tri"}, {"t": 3.225, "v": 0.632, "s": "96/143 Tri"}, {"t": 3.25, "v": 0.64, "s": "96/143 Tri"}, {"t": 3.275, "v": 0.652, "s": "96/143 Tri"}, {"t": 3.3, "v": 0.629, "s": "96/143 Tri"}, {"t": 3.325, "v": 0.645, "s": "96/143 Tri"}, {"t": 3.35, "v": 0.658, "s": "96/143 Tri"}, {"t": 3.375, "v": 0.638, "s": "96/143 Tri"}, {"t": 3.4, "v": 0.65, "s": "96/143 Tri"}, {"t": 3.425, "v": 0.622, "s": "96/143 Tri"}, {"t": 3.45, "v": 0.646, "s": "96/143 Tri"}, {"t": 3.475, "v": 0.655, "s": "96/143 Tri"}, {"t": 3.5, "v": 0.642, "s": "96/143 Tri"},
      {"t": -0.14, "v": 0.935, "s": "96/143 Tri-Nx"}, {"t": -0.125, "v": 0.905, "s": "96/143 Tri-Nx"}, {"t": -0.1, "v": 0.945, "s": "96/143 Tri-Nx"}, {"t": -0.075, "v": 0.92, "s": "96/143 Tri-Nx"}, {"t": -0.05, "v": 0.958, "s": "96/143 Tri-Nx"}, {"t": -0.025, "v": 0.94, "s": "96/143 Tri-Nx"}, {"t": -0.01, "v": 0.975, "s": "96/143 Tri-Nx"}, {"t": 0, "v": 0.985, "s": "96/143 Tri-Nx"}, {"t": 0.015, "v": 0.96, "s": "96/143 Tri-Nx"}, {"t": 0.025, "v": 0.982, "s": "96/143 Tri-Nx"}, {"t": 0.05, "v": 0.955, "s": "96/143 Tri-Nx"}, {"t": 0.075, "v": 0.925, "s": "96/143 Tri-Nx"}, {"t": 0.1, "v": 0.945, "s": "96/143 Tri-Nx"}, {"t": 0.125, "v": 0.91, "s": "96/143 Tri-Nx"}, {"t": 0.15, "v": 0.9, "s": "96/143 Tri-Nx"}, {"t": 0.175, "v": 0.885, "s": "96/143 Tri-Nx"}, {"t": 0.2, "v": 0.87, "s": "96/143 Tri-Nx"}, {"t": 0.225, "v": 0.862, "s": "96/143 Tri-Nx"}, {"t": 0.25, "v": 0.874, "s": "96/143 Tri-Nx"}, {"t": 0.275, "v": 0.845, "s": "96/143 Tri-Nx"}, {"t": 0.3, "v": 0.858, "s": "96/143 Tri-Nx"}, {"t": 0.325, "v": 0.83, "s": "96/143 Tri-Nx"}, {"t": 0.35, "v": 0.842, "s": "96/143 Tri-Nx"}, {"t": 0.375, "v": 0.812, "s": "96/143 Tri-Nx"}, {"t": 0.4, "v": 0.822, "s": "96/143 Tri-Nx"}, {"t": 0.425, "v": 0.796, "s": "96/143 Tri-Nx"}, {"t": 0.45, "v": 0.808, "s": "96/143 Tri-Nx"}, {"t": 0.475, "v": 0.78, "s": "96/143 Tri-Nx"}, {"t": 0.5, "v": 0.792, "s": "96/143 Tri-Nx"}, {"t": 0.525, "v": 0.768, "s": "96/143 Tri-Nx"}, {"t": 0.55, "v": 0.777, "s": "96/143 Tri-Nx"}, {"t": 0.575, "v": 0.752, "s": "96/143 Tri-Nx"}, {"t": 0.6, "v": 0.77, "s": "96/143 Tri-Nx"}, {"t": 0.625, "v": 0.745, "s": "96/143 Tri-Nx"}, {"t": 0.65, "v": 0.756, "s": "96/143 Tri-Nx"}, {"t": 0.675, "v": 0.731, "s": "96/143 Tri-Nx"}, {"t": 0.7, "v": 0.748, "s": "96/143 Tri-Nx"}, {"t": 0.725, "v": 0.722, "s": "96/143 Tri-Nx"}, {"t": 0.75, "v": 0.738, "s": "96/143 Tri-Nx"}, {"t": 0.775, "v": 0.715, "s": "96/143 Tri-Nx"}, {"t": 0.8, "v": 0.732, "s": "96/143 Tri-Nx"}, {"t": 0.825, "v": 0.708, "s": "96/143 Tri-Nx"}, {"t": 0.85, "v": 0.725, "s": "96/143 Tri-Nx"}, {"t": 0.875, "v": 0.702, "s": "96/143 Tri-Nx"}, {"t": 0.9, "v": 0.718, "s": "96/143 Tri-Nx"}, {"t": 0.925, "v": 0.697, "s": "96/143 Tri-Nx"}, {"t": 0.95, "v": 0.712, "s": "96/143 Tri-Nx"}, {"t": 0.975, "v": 0.69, "s": "96/143 Tri-Nx"},
      {"t": 1.0, "v": 0.706, "s": "96/143 Tri-Nx"}, {"t": 1.025, "v": 0.688, "s": "96/143 Tri-Nx"}, {"t": 1.05, "v": 0.71, "s": "96/143 Tri-Nx"}, {"t": 1.075, "v": 0.684, "s": "96/143 Tri-Nx"}, {"t": 1.1, "v": 0.698, "s": "96/143 Tri-Nx"}, {"t": 1.125, "v": 0.672, "s": "96/143 Tri-Nx"}, {"t": 1.15, "v": 0.692, "s": "96/143 Tri-Nx"}, {"t": 1.175, "v": 0.68, "s": "96/143 Tri-Nx"}, {"t": 1.2, "v": 0.705, "s": "96/143 Tri-Nx"}, {"t": 1.225, "v": 0.676, "s": "96/143 Tri-Nx"}, {"t": 1.25, "v": 0.69, "s": "96/143 Tri-Nx"}, {"t": 1.275, "v": 0.668, "s": "96/143 Tri-Nx"}, {"t": 1.3, "v": 0.697, "s": "96/143 Tri-Nx"}, {"t": 1.325, "v": 0.675, "s": "96/143 Tri-Nx"}, {"t": 1.35, "v": 0.712, "s": "96/143 Tri-Nx"}, {"t": 1.375, "v": 0.68, "s": "96/143 Tri-Nx"}, {"t": 1.4, "v": 0.722, "s": "96/143 Tri-Nx"}, {"t": 1.425, "v": 0.686, "s": "96/143 Tri-Nx"}, {"t": 1.45, "v": 0.67, "s": "96/143 Tri-Nx"}, {"t": 1.475, "v": 0.694, "s": "96/143 Tri-Nx"}, {"t": 1.5, "v": 0.678, "s": "96/143 Tri-Nx"}, {"t": 1.525, "v": 0.665, "s": "96/143 Tri-Nx"}, {"t": 1.55, "v": 0.688, "s": "96/143 Tri-Nx"}, {"t": 1.575, "v": 0.672, "s": "96/143 Tri-Nx"}, {"t": 1.6, "v": 0.695, "s": "96/143 Tri-Nx"}, {"t": 1.625, "v": 0.712, "s": "96/143 Tri-Nx"}, {"t": 1.65, "v": 0.68, "s": "96/143 Tri-Nx"}, {"t": 1.675, "v": 0.698, "s": "96/143 Tri-Nx"}, {"t": 1.7, "v": 0.673, "s": "96/143 Tri-Nx"}, {"t": 1.725, "v": 0.69, "s": "96/143 Tri-Nx"}, {"t": 1.75, "v": 0.668, "s": "96/143 Tri-Nx"}, {"t": 1.775, "v": 0.703, "s": "96/143 Tri-Nx"}, {"t": 1.8, "v": 0.678, "s": "96/143 Tri-Nx"}, {"t": 1.825, "v": 0.692, "s": "96/143 Tri-Nx"}, {"t": 1.85, "v": 0.665, "s": "96/143 Tri-Nx"}, {"t": 1.875, "v": 0.684, "s": "96/143 Tri-Nx"}, {"t": 1.9, "v": 0.7, "s": "96/143 Tri-Nx"}, {"t": 1.925, "v": 0.671, "s": "96/143 Tri-Nx"}, {"t": 1.95, "v": 0.688, "s": "96/143 Tri-Nx"}, {"t": 1.975, "v": 0.662, "s": "96/143 Tri-Nx"},
      {"t": 2.0, "v": 0.68, "s": "96/143 Tri-Nx"}, {"t": 2.025, "v": 0.694, "s": "96/143 Tri-Nx"}, {"t": 2.05, "v": 0.67, "s": "96/143 Tri-Nx"}, {"t": 2.075, "v": 0.686, "s": "96/143 Tri-Nx"}, {"t": 2.1, "v": 0.664, "s": "96/143 Tri-Nx"}, {"t": 2.125, "v": 0.69, "s": "96/143 Tri-Nx"}, {"t": 2.15, "v": 0.672, "s": "96/143 Tri-Nx"}, {"t": 2.175, "v": 0.698, "s": "96/143 Tri-Nx"}, {"t": 2.2, "v": 0.665, "s": "96/143 Tri-Nx"}, {"t": 2.225, "v": 0.683, "s": "96/143 Tri-Nx"}, {"t": 2.25, "v": 0.66, "s": "96/143 Tri-Nx"}, {"t": 2.275, "v": 0.692, "s": "96/143 Tri-Nx"}, {"t": 2.3, "v": 0.674, "s": "96/143 Tri-Nx"}, {"t": 2.325, "v": 0.652, "s": "96/143 Tri-Nx"}, {"t": 2.35, "v": 0.686, "s": "96/143 Tri-Nx"}, {"t": 2.375, "v": 0.67, "s": "96/143 Tri-Nx"}, {"t": 2.4, "v": 0.71, "s": "96/143 Tri-Nx"}, {"t": 2.425, "v": 0.675, "s": "96/143 Tri-Nx"}, {"t": 2.45, "v": 0.693, "s": "96/143 Tri-Nx"}, {"t": 2.475, "v": 0.668, "s": "96/143 Tri-Nx"}, {"t": 2.5, "v": 0.705, "s": "96/143 Tri-Nx"}, {"t": 2.525, "v": 0.68, "s": "96/143 Tri-Nx"}, {"t": 2.55, "v": 0.724, "s": "96/143 Tri-Nx"}, {"t": 2.575, "v": 0.672, "s": "96/143 Tri-Nx"}, {"t": 2.6, "v": 0.698, "s": "96/143 Tri-Nx"}, {"t": 2.625, "v": 0.676, "s": "96/143 Tri-Nx"}, {"t": 2.65, "v": 0.69, "s": "96/143 Tri-Nx"}, {"t": 2.675, "v": 0.68, "s": "96/143 Tri-Nx"}, {"t": 2.7, "v": 0.686, "s": "96/143 Tri-Nx"}
    ],
    "D": [
      {"r": 1.5, "p": 2.41, "s": "96/143 Tri"}, {"r": 1.6, "p": 2.15, "s": "96/143 Tri"}, {"r": 1.7, "p": 1.9, "s": "96/143 Tri"}, {"r": 1.8, "p": 1.55, "s": "96/143 Tri"}, {"r": 1.9, "p": 1.21, "s": "96/143 Tri"}, {"r": 2.0, "p": 0.92, "s": "96/143 Tri"}, {"r": 2.1, "p": 0.66, "s": "96/143 Tri"}, {"r": 2.2, "p": 0.42, "s": "96/143 Tri"}, {"r": 2.3, "p": 0.23, "s": "96/143 Tri"}, {"r": 2.4, "p": 0.08, "s": "96/143 Tri"}, {"r": 2.47, "p": 0.04, "s": "96/143 Tri"}, {"r": 2.55, "p": 0.15, "s": "96/143 Tri"}, {"r": 2.65, "p": 0.6, "s": "96/143 Tri"}, {"r": 2.75, "p": 1.05, "s": "96/143 Tri"}, {"r": 2.85, "p": 1.55, "s": "96/143 Tri"}, {"r": 2.95, "p": 2.0, "s": "96/143 Tri"}, {"r": 3.05, "p": 2.5, "s": "96/143 Tri"}, {"r": 3.15, "p": 2.95, "s": "96/143 Tri"}, {"r": 3.25, "p": 3.3, "s": "96/143 Tri"}, {"r": 3.35, "p": 3.45, "s": "96/143 Tri"}, {"r": 3.45, "p": 3.52, "s": "96/143 Tri"}, {"r": 3.55, "p": 3.65, "s": "96/143 Tri"}, {"r": 3.65, "p": 3.95, "s": "96/143 Tri"}, {"r": 3.75, "p": 4.35, "s": "96/143 Tri"}, {"r": 3.85, "p": 4.7, "s": "96/143 Tri"}, {"r": 3.95, "p": 4.92, "s": "96/143 Tri"}, {"r": 4.05, "p": 5.0, "s": "96/143 Tri"}, {"r": 4.12, "p": 4.98, "s": "96/143 Tri"}, {"r": 4.2, "p": 4.88, "s": "96/143 Tri"}, {"r": 4.3, "p": 4.55, "s": "96/143 Tri"}, {"r": 4.4, "p": 4.0, "s": "96/143 Tri"}, {"r": 4.5, "p": 3.35, "s": "96/143 Tri"}, {"r": 4.6, "p": 2.6, "s": "96/143 Tri"}, {"r": 4.7, "p": 1.85, "s": "96/143 Tri"}, {"r": 4.8, "p": 1.21, "s": "96/143 Tri"}, {"r": 4.88, "p": 0.88, "s": "96/143 Tri"}, {"r": 4.95, "p": 0.76, "s": "96/143 Tri"}, {"r": 5.02, "p": 0.8, "s": "96/143 Tri"}, {"r": 5.1, "p": 0.96, "s": "96/143 Tri"}, {"r": 5.2, "p": 1.15, "s": "96/143 Tri"}, {"r": 5.3, "p": 1.27, "s": "96/143 Tri"}, {"r": 5.4, "p": 1.3, "s": "96/143 Tri"}, {"r": 5.5, "p": 1.18, "s": "96/143 Tri"}, {"r": 5.6, "p": 0.9, "s": "96/143 Tri"}, {"r": 5.7, "p": 0.53, "s": "96/143 Tri"}, {"r": 5.8, "p": 0.25, "s": "96/143 Tri"}, {"r": 5.9, "p": 0.08, "s": "96/143 Tri"}, {"r": 6.0, "p": 0.02, "s": "96/143 Tri"}, {"r": 6.1, "p": 0, "s": "96/143 Tri"}, {"r": 7.5, "p": 0, "s": "96/143 Tri"}, {"r": 7.6, "p": 0.03, "s": "96/143 Tri"}, {"r": 7.7, "p": 0.12, "s": "96/143 Tri"}, {"r": 7.8, "p": 0.27, "s": "96/143 Tri"}, {"r": 7.9, "p": 0.44, "s": "96/143 Tri"}, {"r": 8.0, "p": 0.62, "s": "96/143 Tri"},
      {"r": 1.5, "p": 2.32, "s": "96/143 Tri-Nx"}, {"r": 1.6, "p": 2.75, "s": "96/143 Tri-Nx"}, {"r": 1.7, "p": 3.0, "s": "96/143 Tri-Nx"}, {"r": 1.8, "p": 3.08, "s": "96/143 Tri-Nx"}, {"r": 1.9, "p": 2.95, "s": "96/143 Tri-Nx"}, {"r": 2.0, "p": 2.67, "s": "96/143 Tri-Nx"}, {"r": 2.1, "p": 2.25, "s": "96/143 Tri-Nx"}, {"r": 2.2, "p": 1.85, "s": "96/143 Tri-Nx"}, {"r": 2.3, "p": 1.6, "s": "96/143 Tri-Nx"}, {"r": 2.4, "p": 1.47, "s": "96/143 Tri-Nx"}, {"r": 2.47, "p": 1.46, "s": "96/143 Tri-Nx"}, {"r": 2.55, "p": 1.55, "s": "96/143 Tri-Nx"}, {"r": 2.65, "p": 1.72, "s": "96/143 Tri-Nx"}, {"r": 2.75, "p": 1.85, "s": "96/143 Tri-Nx"}, {"r": 2.82, "p": 1.88, "s": "96/143 Tri-Nx"}, {"r": 2.9, "p": 1.85, "s": "96/143 Tri-Nx"}, {"r": 3.0, "p": 1.8, "s": "96/143 Tri-Nx"}, {"r": 3.1, "p": 1.76, "s": "96/143 Tri-Nx"}, {"r": 3.2, "p": 1.72, "s": "96/143 Tri-Nx"}, {"r": 3.3, "p": 1.66, "s": "96/143 Tri-Nx"}, {"r": 3.4, "p": 1.63, "s": "96/143 Tri-Nx"}, {"r": 3.5, "p": 1.62, "s": "96/143 Tri-Nx"}, {"r": 3.6, "p": 1.62, "s": "96/143 Tri-Nx"}, {"r": 3.68, "p": 1.72, "s": "96/143 Tri-Nx"}, {"r": 3.75, "p": 1.95, "s": "96/143 Tri-Nx"}, {"r": 3.85, "p": 2.4, "s": "96/143 Tri-Nx"}, {"r": 3.95, "p": 2.8, "s": "96/143 Tri-Nx"}, {"r": 4.05, "p": 3.1, "s": "96/143 Tri-Nx"}, {"r": 4.15, "p": 3.35, "s": "96/143 Tri-Nx"}, {"r": 4.25, "p": 3.52, "s": "96/143 Tri-Nx"}, {"r": 4.35, "p": 3.6, "s": "96/143 Tri-Nx"}, {"r": 4.45, "p": 3.64, "s": "96/143 Tri-Nx"}, {"r": 4.55, "p": 3.7, "s": "96/143 Tri-Nx"}, {"r": 4.65, "p": 3.85, "s": "96/143 Tri-Nx"}, {"r": 4.75, "p": 4.2, "s": "96/143 Tri-Nx"}, {"r": 4.85, "p": 4.55, "s": "96/143 Tri-Nx"}, {"r": 4.95, "p": 4.82, "s": "96/143 Tri-Nx"}, {"r": 5.05, "p": 4.96, "s": "96/143 Tri-Nx"}, {"r": 5.15, "p": 5.0, "s": "96/143 Tri-Nx"}, {"r": 5.25, "p": 4.95, "s": "96/143 Tri-Nx"}, {"r": 5.35, "p": 4.8, "s": "96/143 Tri-Nx"}, {"r": 5.45, "p": 4.5, "s": "96/143 Tri-Nx"}, {"r": 5.55, "p": 4.05, "s": "96/143 Tri-Nx"}, {"r": 5.65, "p": 3.55, "s": "96/143 Tri-Nx"}, {"r": 5.75, "p": 3.05, "s": "96/143 Tri-Nx"}, {"r": 5.85, "p": 2.55, "s": "96/143 Tri-Nx"}, {"r": 5.95, "p": 2.05, "s": "96/143 Tri-Nx"}, {"r": 6.05, "p": 1.58, "s": "96/143 Tri-Nx"}, {"r": 6.15, "p": 1.15, "s": "96/143 Tri-Nx"}, {"r": 6.25, "p": 0.78, "s": "96/143 Tri-Nx"}, {"r": 6.35, "p": 0.48, "s": "96/143 Tri-Nx"}, {"r": 6.45, "p": 0.25, "s": "96/143 Tri-Nx"}, {"r": 6.55, "p": 0.1, "s": "96/143 Tri-Nx"}, {"r": 6.65, "p": 0.02, "s": "96/143 Tri-Nx"}, {"r": 6.75, "p": 0, "s": "96/143 Tri-Nx"}, {"r": 6.9, "p": 0.02, "s": "96/143 Tri-Nx"}, {"r": 7.0, "p": 0.1, "s": "96/143 Tri-Nx"}, {"r": 7.1, "p": 0.3, "s": "96/143 Tri-Nx"}, {"r": 7.2, "p": 0.6, "s": "96/143 Tri-Nx"}, {"r": 7.3, "p": 0.95, "s": "96/143 Tri-Nx"}, {"r": 7.4, "p": 1.3, "s": "96/143 Tri-Nx"}, {"r": 7.5, "p": 1.65, "s": "96/143 Tri-Nx"}, {"r": 7.6, "p": 1.98, "s": "96/143 Tri-Nx"}, {"r": 7.7, "p": 2.25, "s": "96/143 Tri-Nx"}, {"r": 7.8, "p": 2.5, "s": "96/143 Tri-Nx"}, {"r": 7.9, "p": 2.72, "s": "96/143 Tri-Nx"}, {"r": 8.0, "p": 2.94, "s": "96/143 Tri-Nx"},
      {"r": 1.5, "p": 0, "s": "trimer model"}, {"r": 3.12, "p": 0, "s": "trimer model"}, {"r": 3.18, "p": 0.1, "s": "trimer model"}, {"r": 3.23, "p": 0.45, "s": "trimer model"}, {"r": 3.28, "p": 1.4, "s": "trimer model"}, {"r": 3.33, "p": 2.7, "s": "trimer model"}, {"r": 3.38, "p": 3.9, "s": "trimer model"}, {"r": 3.43, "p": 4.7, "s": "trimer model"}, {"r": 3.48, "p": 5.05, "s": "trimer model"}, {"r": 3.53, "p": 4.8, "s": "trimer model"}, {"r": 3.58, "p": 4.2, "s": "trimer model"}, {"r": 3.63, "p": 3.4, "s": "trimer model"}, {"r": 3.68, "p": 2.6, "s": "trimer model"}, {"r": 3.73, "p": 1.9, "s": "trimer model"}, {"r": 3.78, "p": 1.3, "s": "trimer model"}, {"r": 3.83, "p": 0.8, "s": "trimer model"}, {"r": 3.88, "p": 0.45, "s": "trimer model"}, {"r": 3.93, "p": 0.22, "s": "trimer model"}, {"r": 3.98, "p": 0.15, "s": "trimer model"}, {"r": 4.03, "p": 0.5, "s": "trimer model"}, {"r": 4.08, "p": 0.85, "s": "trimer model"}, {"r": 4.13, "p": 0.85, "s": "trimer model"}, {"r": 4.18, "p": 0.9, "s": "trimer model"}, {"r": 4.23, "p": 1.0, "s": "trimer model"}, {"r": 4.28, "p": 1.4, "s": "trimer model"}, {"r": 4.33, "p": 2.2, "s": "trimer model"}, {"r": 4.38, "p": 3.0, "s": "trimer model"}, {"r": 4.43, "p": 3.45, "s": "trimer model"}, {"r": 4.47, "p": 3.56, "s": "trimer model"}, {"r": 4.52, "p": 3.4, "s": "trimer model"}, {"r": 4.57, "p": 3.0, "s": "trimer model"}, {"r": 4.62, "p": 2.4, "s": "trimer model"}, {"r": 4.67, "p": 1.8, "s": "trimer model"}, {"r": 4.72, "p": 1.25, "s": "trimer model"}, {"r": 4.77, "p": 0.8, "s": "trimer model"}, {"r": 4.82, "p": 0.45, "s": "trimer model"}, {"r": 4.87, "p": 0.22, "s": "trimer model"}, {"r": 4.92, "p": 0.08, "s": "trimer model"}, {"r": 4.97, "p": 0.02, "s": "trimer model"}, {"r": 5.05, "p": 0, "s": "trimer model"}, {"r": 8.0, "p": 0, "s": "trimer model"}
    ]
  },
  "concat": [
    {
      "width": 322, "height": 228,
      "title": {"text": "A", "offset": -48, "dx": 49},
      "data": {"name": "A"},
      "layer": [
        {
          "mark": {"type": "line", "clip": true, "strokeWidth": 1.3},
          "encoding": {
            "x": {"field": "t", "type": "quantitative", "scale": {"domain": [-0.13, 5], "nice": false, "zero": false}, "axis": {"title": "t (μs)", "values": [0, 0.5, 1, 1.5, 2, 2.5, 3, 3.5, 4, 4.5, 5], "labelExpr": "datum.value % 1 === 0 ? datum.label : ''"}},
            "y": {"field": "v", "type": "quantitative", "scale": {"domain": [0.097, 1.038], "nice": false, "zero": false}, "axis": {"title": "V(t)/V(0)", "values": [0.2, 0.3, 0.4, 0.5, 0.6, 0.7, 0.8, 0.9, 1], "labelExpr": "round(datum.value * 10) % 2 === 0 ? datum.label : ''"}},
            "color": {"field": "s", "type": "nominal", "scale": {"domain": ["96/143 Mono", "96/143 Mono-Nx"], "range": ["#1a1a1a", "#c41a1f"]}, "legend": {"legendX": 182, "legendY": 20.5, "rowPadding": -4}}
          }
        },
        {
          "mark": {"type": "point", "opacity": 0},
          "encoding": {
            "x": {"field": "t", "type": "quantitative", "axis": {"orient": "top", "labels": false, "title": null, "tickSize": -4, "values": [0, 0.5, 1, 1.5, 2, 2.5, 3, 3.5, 4, 4.5, 5]}},
            "y": {"field": "v", "type": "quantitative", "axis": {"orient": "right", "labels": false, "title": null, "tickSize": -4, "values": [0.2, 0.3, 0.4, 0.5, 0.6, 0.7, 0.8, 0.9, 1]}}
          }
        }
      ],
      "resolve": {"axis": {"x": "independent", "y": "independent"}}
    },
    {
      "width": 323, "height": 228,
      "title": {"text": "B", "offset": -47, "dx": 24},
      "data": {"name": "B"},
      "layer": [
        {
          "mark": {"type": "line", "clip": true},
          "encoding": {
            "x": {"field": "r", "type": "quantitative", "scale": {"domain": [1.5, 8], "nice": false, "zero": false}, "axis": {"title": "r (nm)", "values": [2, 3, 4, 5, 6, 7, 8]}},
            "y": {"field": "p", "type": "quantitative", "scale": {"domain": [-1.14, 13], "nice": false, "zero": false}, "axis": {"title": "P(r) (a.u.)", "values": [0, 2, 4, 6, 8, 10, 12]}},
            "color": {"field": "s", "type": "nominal", "scale": {"domain": ["96/143 Mono", "96/143 Mono-Nx", "monomer model"], "range": ["#1a1a1a", "#c41a1f", "#2277c4"]}, "legend": {"legendX": 186, "legendY": 21, "rowPadding": -1}},
            "strokeDash": {"field": "s", "type": "nominal", "scale": {"domain": ["96/143 Mono", "96/143 Mono-Nx", "monomer model"], "range": [[1, 0], [1, 0], [4, 3]]}, "legend": {"legendX": 186, "legendY": 21, "rowPadding": -1}},
            "strokeWidth": {"field": "s", "type": "nominal", "scale": {"domain": ["96/143 Mono", "96/143 Mono-Nx", "monomer model"], "range": [1.3, 1.3, 2.4]}, "legend": null}
          }
        },
        {
          "mark": {"type": "point", "opacity": 0},
          "encoding": {
            "x": {"field": "r", "type": "quantitative", "axis": {"orient": "top", "labels": false, "title": null, "tickSize": -4, "values": [2, 3, 4, 5, 6, 7, 8]}},
            "y": {"field": "p", "type": "quantitative", "axis": {"orient": "right", "labels": false, "title": null, "tickSize": -4, "values": [0, 2, 4, 6, 8, 10, 12]}}
          }
        }
      ],
      "resolve": {"axis": {"x": "independent", "y": "independent"}}
    },
    {
      "width": 322, "height": 226,
      "title": {"text": "C", "offset": -48, "dx": 50},
      "data": {"name": "C"},
      "layer": [
        {
          "mark": {"type": "line", "clip": true, "strokeWidth": 1.3},
          "encoding": {
            "x": {"field": "t", "type": "quantitative", "scale": {"domain": [-0.14, 3.5], "nice": false, "zero": false}, "axis": {"title": "t (μs)", "values": [0, 0.5, 1, 1.5, 2, 2.5, 3, 3.5], "labelExpr": "datum.value % 1 === 0 ? datum.label : ''"}},
            "y": {"field": "v", "type": "quantitative", "scale": {"domain": [0.569, 1.031], "nice": false, "zero": false}, "axis": {"title": "V(t)/V(0)", "values": [0.6, 0.65, 0.7, 0.75, 0.8, 0.85, 0.9, 0.95, 1], "labelExpr": "round(datum.value * 100) % 10 === 0 ? datum.label : ''"}},
            "color": {"field": "s", "type": "nominal", "scale": {"domain": ["96/143 Tri", "96/143 Tri-Nx"], "range": ["#1a1a1a", "#c41a1f"]}, "legend": {"legendX": 197, "legendY": 17, "rowPadding": 1}}
          }
        },
        {
          "mark": {"type": "point", "opacity": 0},
          "encoding": {
            "x": {"field": "t", "type": "quantitative", "axis": {"orient": "top", "labels": false, "title": null, "tickSize": -4, "values": [0, 0.5, 1, 1.5, 2, 2.5, 3, 3.5]}},
            "y": {"field": "v", "type": "quantitative", "axis": {"orient": "right", "labels": false, "title": null, "tickSize": -4, "values": [0.6, 0.65, 0.7, 0.75, 0.8, 0.85, 0.9, 0.95, 1]}}
          }
        }
      ],
      "resolve": {"axis": {"x": "independent", "y": "independent"}}
    },
    {
      "width": 323, "height": 225,
      "title": {"text": "D", "offset": -46, "dx": 23},
      "data": {"name": "D"},
      "layer": [
        {
          "mark": {"type": "line", "clip": true},
          "encoding": {
            "x": {"field": "r", "type": "quantitative", "scale": {"domain": [1.5, 8], "nice": false, "zero": false}, "axis": {"title": "r (nm)", "values": [2, 3, 4, 5, 6, 7, 8]}},
            "y": {"field": "p", "type": "quantitative", "scale": {"domain": [-0.28, 5.5], "nice": false, "zero": false}, "axis": {"title": "P(r) (a.u.)", "values": [0, 1, 2, 3, 4, 5]}},
            "color": {"field": "s", "type": "nominal", "scale": {"domain": ["96/143 Tri", "96/143 Tri-Nx", "trimer model"], "range": ["#1a1a1a", "#c41a1f", "#2277c4"]}, "legend": {"legendX": 211, "legendY": 18, "rowPadding": 0}},
            "strokeDash": {"field": "s", "type": "nominal", "scale": {"domain": ["96/143 Tri", "96/143 Tri-Nx", "trimer model"], "range": [[1, 0], [1, 0], [4, 3]]}, "legend": {"legendX": 211, "legendY": 18, "rowPadding": 0}},
            "strokeWidth": {"field": "s", "type": "nominal", "scale": {"domain": ["96/143 Tri", "96/143 Tri-Nx", "trimer model"], "range": [1.3, 1.3, 2.4]}, "legend": null}
          }
        },
        {
          "mark": {"type": "point", "opacity": 0},
          "encoding": {
            "x": {"field": "r", "type": "quantitative", "axis": {"orient": "top", "labels": false, "title": null, "tickSize": -4, "values": [2, 3, 4, 5, 6, 7, 8]}},
            "y": {"field": "p", "type": "quantitative", "axis": {"orient": "right", "labels": false, "title": null, "tickSize": -4, "values": [0, 1, 2, 3, 4, 5]}}
          }
        }
      ],
      "resolve": {"axis": {"x": "independent", "y": "independent"}}
    }
  ]
}
